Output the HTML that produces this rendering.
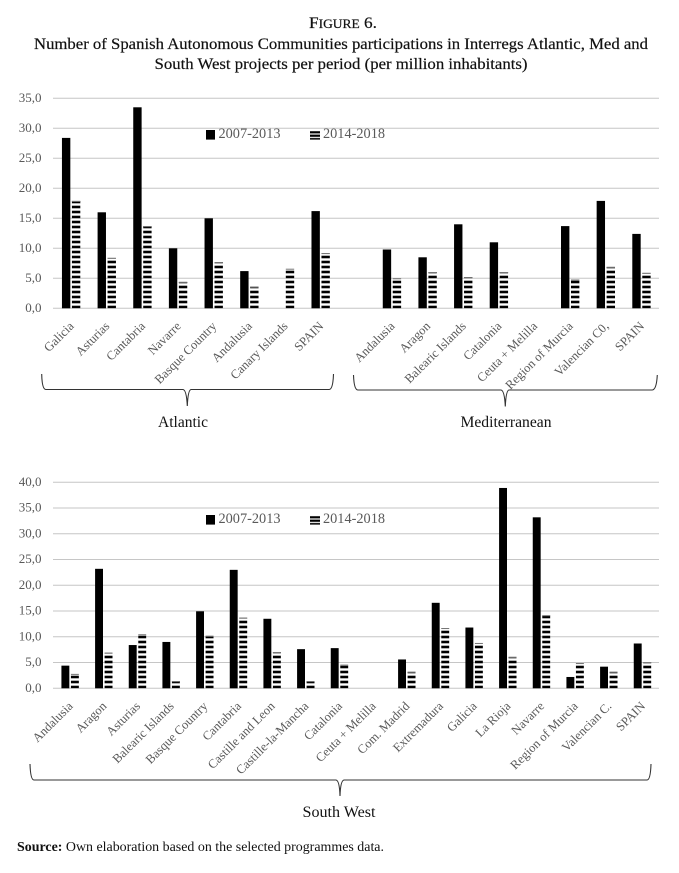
<!DOCTYPE html>
<html>
<head>
<meta charset="utf-8">
<title>Figure 6</title>
<style>
html,body{margin:0;padding:0;background:#fff;}
svg{display:block;}
text{font-family:"Liberation Serif",serif;}
.tick{font-size:13px;fill:#595959;text-anchor:end;}
.cat{font-size:12.6px;fill:#595959;text-anchor:end;}
.leg{font-size:14.3px;fill:#595959;}
.title{font-size:16px;fill:#111;text-anchor:middle;stroke:#111;stroke-width:.2px;}
.group{font-size:15.5px;fill:#111;text-anchor:middle;}
.src{font-size:14px;fill:#111;}
</style>
</head>
<body>
<svg id="fig" xmlns="http://www.w3.org/2000/svg" width="679" height="873" viewBox="0 0 679 873">
<rect width="679" height="873" fill="#fff"/>
<defs>
<pattern id="hatch-top" patternUnits="userSpaceOnUse" x="0" y="308.3" width="10" height="5">
<rect x="0" y="2.4" width="10" height="2.6" fill="#000"/>
</pattern>
<pattern id="hatch-sw" patternUnits="userSpaceOnUse" x="0" y="688.3" width="10" height="5">
<rect x="0" y="2.4" width="10" height="2.6" fill="#000"/>
</pattern>
<pattern id="hatch-leg-a" patternUnits="userSpaceOnUse" x="0" y="130" width="10" height="3.4">
<rect x="0" y="1.2" width="10" height="2.2" fill="#000"/>
</pattern>
<pattern id="hatch-leg-b" patternUnits="userSpaceOnUse" x="0" y="515" width="10" height="3.4">
<rect x="0" y="1.2" width="10" height="2.2" fill="#000"/>
</pattern>
</defs>

<text class="title" x="343" y="28" textLength="68" lengthAdjust="spacingAndGlyphs">F<tspan font-size="12.5">IGURE</tspan> 6.</text>
<text class="title" x="341" y="49" textLength="614" lengthAdjust="spacingAndGlyphs">Number of Spanish Autonomous Communities participations in Interregs Atlantic, Med and</text>
<text class="title" x="341" y="69" textLength="373" lengthAdjust="spacingAndGlyphs">South West projects per period (per million inhabitants)</text>

<g id="top-chart"></g>
<g id="sw-chart"></g>

<path d="M41.7 374 Q42 389.5 46 389.5 L183 389.5 Q186.5 390 187.3 406 Q188 390 191 389.5 L329 389.5 Q333 389.5 333.5 374" fill="none" stroke="#333" stroke-width="1.1"/>
<path d="M353.5 375 Q354 390 358 390 L501 390 Q504.5 390.5 505.3 406.5 Q506 390.5 509 390 L652 390 Q656.5 390 657.3 375" fill="none" stroke="#333" stroke-width="1.1"/>
<path d="M30 764 Q30.5 780 34 780 L336 780 Q339.5 780.5 340 796 Q340.5 780.5 344 780 L647 780 Q650.5 780 651 764" fill="none" stroke="#333" stroke-width="1.1"/>

<text class="group" x="183" y="427" textLength="50" lengthAdjust="spacingAndGlyphs">Atlantic</text>
<text class="group" x="506" y="427" textLength="91" lengthAdjust="spacingAndGlyphs">Mediterranean</text>
<text class="group" x="339" y="817" textLength="73" lengthAdjust="spacingAndGlyphs">South West</text>

<text class="src" x="17" y="851" textLength="367" lengthAdjust="spacingAndGlyphs"><tspan font-weight="bold">Source:</tspan> Own elaboration based on the selected programmes data.</text>

<script>
var seriesNames = ["2007-2013", "2014-2018"];

var topCategories = ["Galicia","Asturias","Cantabria","Navarre","Basque Country","Andalusia","Canary Islands","SPAIN","","Andalusia","Aragon","Balearic Islands","Catalonia","Ceuta + Melilla","Region of Murcia","Valencian C0,","SPAIN"];
var top2007 = [28.4,16.0,33.5,10.0,15.0,6.2,0,16.2,0,9.8,8.5,14.0,11.0,0,13.7,17.9,12.4];
var top2014 = [17.9,8.4,13.7,4.4,7.7,3.6,6.6,9.2,0,5.0,6.05,5.2,6.05,0,4.8,6.9,5.9];
var topTicks = ["0,0","5,0","10,0","15,0","20,0","25,0","30,0","35,0"];
var topTickValues = [0,5,10,15,20,25,30,35];

var swCategories = ["Andalusia","Aragon","Asturias","Balearic Islands","Basque Country","Cantabria","Castille and Leon","Castille-la-Mancha","Catalonia","Ceuta + Melilla","Com. Madrid","Extremadura","Galicia","La Rioja","Navarre","Region of Murcia","Valencian C.","SPAIN"];
var sw2007 = [4.4,23.2,8.4,9.0,14.95,23.0,13.5,7.6,7.8,0,5.6,16.6,11.8,38.9,33.2,2.2,4.2,8.7];
var sw2014 = [2.8,6.9,10.5,1.4,10.2,13.7,7.05,1.4,4.6,0,3.2,11.7,8.8,6.1,14.2,4.9,3.2,5.05];
var swTicks = ["0,0","5,0","10,0","15,0","20,0","25,0","30,0","35,0","40,0"];
var swTickValues = [0,5,10,15,20,25,30,35,40];

var NS = "http://www.w3.org/2000/svg";
var PLOT_LEFT = 53, PLOT_RIGHT = 659;

function make(parent, tag, props, txt) {
  var el = document.createElementNS(NS, tag);
  for (var k in props) el.setAttribute(k, props[k]);
  if (txt !== undefined) el.textContent = txt;
  parent.appendChild(el);
  return el;
}

function drawChart(opts) {
  var g = document.getElementById(opts.id);
  var n = opts.categories.length;
  var band = (PLOT_RIGHT - PLOT_LEFT) / n;
  var barW = band * 0.235;
  function xScale(i) { return PLOT_LEFT + (i + 0.5) * band + 0.3; }
  function yScale(v) { return opts.y0 - v * opts.unit; }

  opts.tickValues.forEach(function (v, i) {
    var line = make(g, "line", {x1: PLOT_LEFT, x2: PLOT_RIGHT, y1: yScale(v), y2: yScale(v), stroke: "#c6c6c6", "stroke-width": 1});
    
    
    var lab = make(g, "text", {"class": "tick", x: 41.5, y: yScale(v) + 3.5}, opts.tickLabels[i]);
    
    
  });

  opts.categories.forEach(function (c, i) {
    var cx = xScale(i);
    if (opts.a[i] > 0) {
      var a = make(g, "rect", {x: cx - 0.8 - barW, y: yScale(opts.a[i]), width: barW, height: opts.a[i] * opts.unit, fill: "#000"});
      
      
    }
    if (opts.b[i] > 0) {
      var bg = make(g, "rect", {x: cx + 0.8, y: yScale(opts.b[i]), width: barW, height: opts.b[i] * opts.unit, fill: "#fff"});
      
      
      var b = make(g, "rect", {x: cx + 0.8, y: yScale(opts.b[i]), width: barW, height: opts.b[i] * opts.unit, fill: "url(#" + opts.hatch + ")"});
      
      
      var cap = make(g, "rect", {x: cx + 0.8, y: yScale(opts.b[i]), width: barW, height: 1, fill: "#777"});
      
      
    }
    if (c) {
      var ax = cx + 3.5, ay = opts.y0 + 18.5;
      var t = make(g, "text", {"class": "cat", x: ax, y: ay, transform: "rotate(-45 " + ax + " " + ay + ")"}, c);
      
      
    }
  });

  var s1 = make(g, "rect", {x: 206, y: opts.legY, width: 9, height: 9.6, fill: "#000"});
  
  
  var l1 = make(g, "text", {"class": "leg", x: 218.5, y: opts.legY + 8.2, textLength: 62, lengthAdjust: "spacingAndGlyphs"}, seriesNames[0]);
  
  
  var s2 = make(g, "rect", {x: 310, y: opts.legY, width: 10, height: 9.6, fill: "url(#" + opts.legHatch + ")"});
  
  
  var l2 = make(g, "text", {"class": "leg", x: 323, y: opts.legY + 8.2, textLength: 62, lengthAdjust: "spacingAndGlyphs"}, seriesNames[1]);
  
  
}

drawChart({id: "top-chart", categories: topCategories, a: top2007, b: top2014, tickValues: topTickValues, tickLabels: topTicks, y0: 308.3, unit: 6, hatch: "hatch-top", legY: 130, legHatch: "hatch-leg-a"});
drawChart({id: "sw-chart", categories: swCategories, a: sw2007, b: sw2014, tickValues: swTickValues, tickLabels: swTicks, y0: 688.3, unit: 5.15, hatch: "hatch-sw", legY: 515, legHatch: "hatch-leg-b"});
</script>
</svg>
</body>
</html>
